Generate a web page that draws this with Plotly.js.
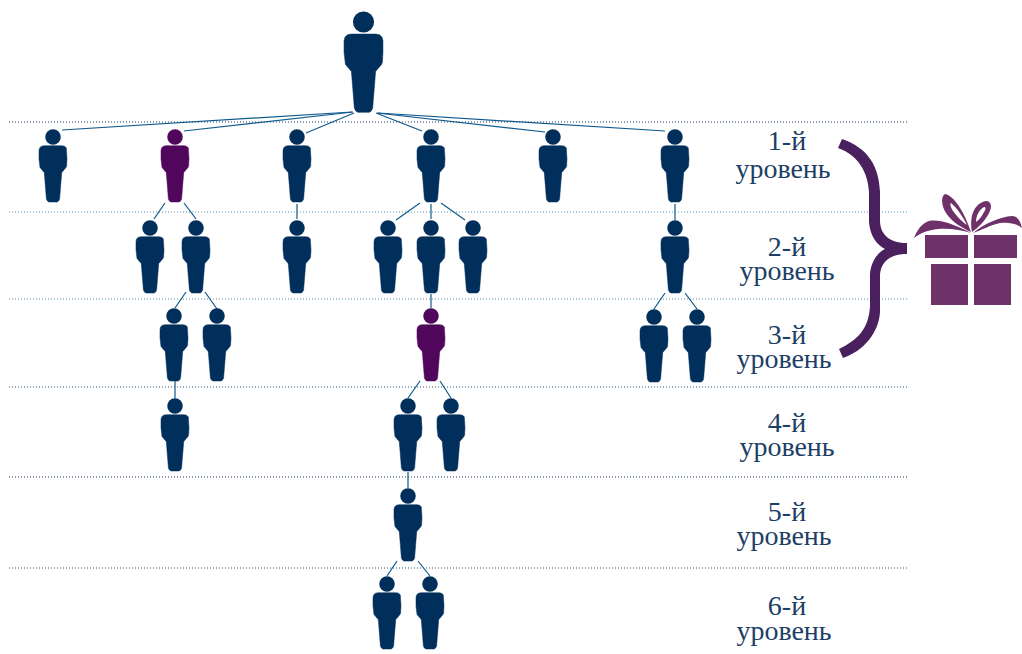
<!DOCTYPE html>
<html><head><meta charset="utf-8">
<script src="https://cdn.plot.ly/plotly-3.0.1.min.js"></script>
<style>html,body{margin:0;padding:0;background:#fff}#c{width:1022px;height:654px}</style>
</head><body><div id="c"></div>
<script>
// People: head centre and kind
const navyX = [363.5, 53,297,431,553,675, 150,196,297,388,431,473,675, 174,217,654,697, 175,408,451, 408, 387,430];
const navyY = [22, 137,137,137,137,137, 228,228,228,228,228,228,228, 316,316,317,317, 406,406,406, 496, 584,584];
const navyScale = [1.39, 1,1,1,1,1, 1,1,1,1,1,1,1, 1,1,1,1, 1,1,1, 1, 1,1];
const plumX = [175, 431];
const plumY = [137, 316];
// Links: [x0,y0,x1,y1]
const links = [
 [352,112,62,130],[353,112,184,131],[354,113,306,133],[376,113,422,131],[377,113,545,132],[378,113,665,131],
 [165,203,154,219],[184,203,196,219],[297,204,297,219],[420,203,396,220],[431,204,431,219],[441,203,465,220],[675,204,675,220],
 [186,292,175,308],[205,292,217,309],[431,294,431,308],[665,293,654,309],[685,293,697,309],
 [175,381,175,398],[420,381,408,398],[440,381,451,398],[408,472,408,488],[397,561,387,576],[418,561,430,576]];
// Level separators
const sepY = [122,212,299,387,477,568];
const sepColor = ['#1d3f66','#5b93b8','#5b93b8','#2b5a80','#1d3f66','#2b5a80'];
const sepStart = 9, sepEnd = 908;
// Level labels
const labelText = ['1-й','уровень','2-й','уровень','3-й','уровень','4-й','уровень','5-й','уровень','6-й','уровень'];
const labelX = [787,783,787,787,787,784,787,787,787,784,787,784];
const labelY = [143,171,249,273,337,361,425,449,514,538,608,633];
// Body outline for the standard figure, relative to head centre
const bodyX = [-9,-11.5,-13.3,-14,-14,-13.6,-13,-8.8,-8.6,-6.6,-5.6,-4.2,4.2,5.6,6.6,8.6,8.8,13,13.6,14,14,13.3,11.5,9,-9];
const bodyY = [8.7,9.2,10.8,13.5,22,29,30.5,35.5,37,62,64,65,65,64,62,37,35.5,30.5,29,22,13.5,10.8,9.2,8.7,8.7];
const headDiameter = 16;

function bodies(xs, ys, ss){
  const X=[],Y=[];
  xs.forEach((cx,i)=>{const s=ss?ss[i]:1;
    bodyX.forEach((b,j)=>{X.push(cx+s*b);Y.push(ys[i]+s*bodyY[j]);});
    X.push(null);Y.push(null);});
  return {X,Y};
}
const nb=bodies(navyX,navyY,navyScale), pb=bodies(plumX,plumY);
const linkX=[],linkY=[];
links.forEach(l=>{linkX.push(l[0],l[2],null);linkY.push(l[1],l[3],null);});

const traces=[];
sepY.forEach((y,i)=>traces.push({type:'scatter',mode:'lines',x:[sepStart,sepEnd],y:[y,y],hoverinfo:'skip',
  line:{color:sepColor[i],width:1.1,dash:'1px 2px'}}));
traces.push({type:'scatter',mode:'lines',x:linkX,y:linkY,hoverinfo:'skip',line:{color:'#10598c',width:1.2}});
traces.push({type:'scatter',mode:'lines',x:nb.X,y:nb.Y,fill:'toself',fillcolor:'#002f5c',line:{color:'#002f5c',width:0.5,shape:'linear'},hoverinfo:'skip'});
traces.push({type:'scatter',mode:'lines',x:pb.X,y:pb.Y,fill:'toself',fillcolor:'#50065a',line:{color:'#50065a',width:0.5},hoverinfo:'skip'});
traces.push({type:'scatter',mode:'markers',x:navyX,y:navyY,hoverinfo:'skip',
  marker:{color:'#002f5c',opacity:1,size:navyScale.map(s=>s*headDiameter*(s>1?0.95:0.97)),line:{width:0}}});
traces.push({type:'scatter',mode:'markers',x:plumX,y:plumY,hoverinfo:'skip',marker:{color:'#50065a',opacity:1,size:headDiameter*0.97,line:{width:0}}});
traces.push({type:'scatter',mode:'text',x:labelX,y:labelY,text:labelText,hoverinfo:'skip',textposition:'middle center',
  textfont:{family:'"Liberation Serif",serif',size:28,color:'#1d3f66'}});

const giftColor='#6f3169', braceColor='#4a205e';
const rect=(x0,y0,x1,y1)=>({type:'rect',xref:'x',yref:'y',x0,y0,x1,y1,fillcolor:giftColor,line:{width:0},layer:'above'});
const path=(d,fill)=>({type:'path',xref:'x',yref:'y',path:d,fillcolor:fill,line:{width:0},layer:'above'});
const shapes=[
 rect(925,235,968,258),rect(974,235,1017,258),rect(931,264,968,305),rect(974,264,1011,305),
 // brace
 path('M 842 139 C 868 148 879 166 880 192 L 880 222 C 881 236 891 243 907 243 L 907 254 C 891 254 881 261 880 275 L 880 312 C 879 332 864 351 843 358 L 839 349 C 858 340 869 328 870 306 L 870 274 C 871 262 877 253 885 249 C 877 245 870 236 869 222 L 869 192 C 868 172 858 155 838 148 Z',braceColor),
 // ribbon tails
 path('M 971 233 C 952 223 938 219 929 221 C 922 223 917 230 914 238 C 920 233 928 230 938 229 C 950 228 961 230 971 233 Z',giftColor),
 path('M 973 233 C 985 223 1000 217 1012 216 C 1017 216 1020 220 1022 228 C 1016 223 1008 222 1000 223 C 990 225 982 230 973 233 Z',giftColor),
 // ribbon bows
 path('M 971 232 C 965 214 955 196 945 194 C 941 196 941 205 946 213 C 952 222 962 228 971 232 Z M 967 225 C 960 220 956 215 953 211 C 950 206 950 204 951 203 C 956 207 962 215 967 225 Z',giftColor),
 path('M 972 232 C 969 215 975 203 986 201 C 992 201 992 208 989 213 C 985 221 978 228 972 232 Z M 976 222 C 976 215 980 209 984 207 C 986 207 986 209 984 212 C 982 216 980 219 976 222 Z',giftColor)
];

Plotly.newPlot('c',traces,{
  width:1022,height:654,margin:{l:0,r:0,t:0,b:0},showlegend:false,paper_bgcolor:'#fff',plot_bgcolor:'#fff',
  xaxis:{range:[0,1022],visible:false,fixedrange:true},
  yaxis:{range:[654,0],visible:false,fixedrange:true},
  shapes
},{staticPlot:true,displayModeBar:false});
</script></body></html>
